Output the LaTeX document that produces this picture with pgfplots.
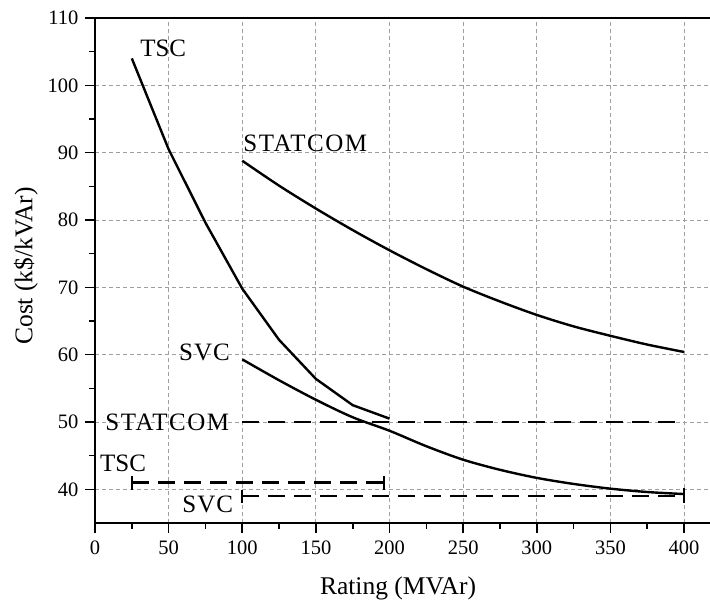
\documentclass[border=0pt]{standalone}
\usepackage{fontspec}
\setmainfont{Liberation Serif}
\usepackage{pgfplots}
\pgfplotsset{compat=1.18}

\begin{document}
\begin{tikzpicture}[lbl/.style={font=\fontsize{25}{30}\selectfont, inner sep=0pt}]
\begin{axis}[
  at={(0,0)}, anchor=south west,
  scale only axis, width=618.5pt, height=505pt,
  xmin=0, xmax=420, ymin=35, ymax=110,
  xtick={0,50,...,400}, ytick={40,50,...,110},
  minor x tick num=1, minor y tick num=1,
  tick pos=left, tick align=outside,
  major tick length=10pt, minor tick length=6pt,
  grid=major,
  major grid style={gray!75, line width=0.8pt, dash pattern=on 4pt off 3pt},
  axis line style={line width=1.8pt},
  every tick/.style={black, line width=1.6pt},
  ticklabel style={font=\fontsize{20.5}{24}\selectfont},
  yticklabel style={xshift=-3pt},
  xticklabel style={yshift=-4pt},
  /pgf/number format/assume math mode=true,
  xlabel={Rating (MVAr)}, ylabel={Cost (k\$/kVAr)},
  label style={font=\fontsize{25.5}{30}\selectfont},
  xlabel style={at={(axis description cs:0.49,0)}, anchor=base, yshift=-72pt},
  ylabel style={at={(axis description cs:-0.1116,0.509)}, anchor=center},
  clip=false,
]
% cost curves
\addplot[black, line width=2.4pt] coordinates {
  (25,104) (50,90.5) (75,79.6) (100,69.8) (125,62.2) (150,56.4) (175,52.5) (200,50.5)};
\addplot[black, line width=2.4pt, smooth] coordinates {
  (100,88.8) (125,85.1) (150,81.7) (175,78.5) (200,75.5) (225,72.7) (250,70.1)
  (275,67.9) (300,65.9) (325,64.2) (350,62.8) (375,61.5) (400,60.4)};
\addplot[black, line width=2.4pt, smooth] coordinates {
  (100,59.3) (125,56.2) (150,53.3) (175,50.7) (200,48.7) (225,46.4) (250,44.4)
  (275,42.9) (300,41.7) (325,40.8) (350,40.1) (375,39.6) (400,39.3)};

% rating ranges
\addplot[black, line width=2.7pt, dash pattern=on 17pt off 9pt] coordinates {(100,50) (400,50)};
\addplot[black, line width=2.7pt, dash pattern=on 17pt off 9pt] coordinates {(25,41) (196,41)};
\addplot[black, line width=2.7pt, dash pattern=on 17pt off 9pt] coordinates {(100,39) (400,39)};
\addplot[black, line width=2pt] coordinates {(25,42) (25,39.9)};
\addplot[black, line width=2pt] coordinates {(196,42) (196,39.9)};
\addplot[black, line width=2pt] coordinates {(100,39.9) (100,38)};
\addplot[black, line width=2.4pt] coordinates {(400,40.2) (400,37.9)};

\node[lbl, anchor=west] at (axis cs:30.6,105.5) {TSC};
\node[lbl, anchor=west] at (axis cs:100.7,91.4) {\addfontfeature{LetterSpace=6}STATCOM};
\node[lbl, anchor=east] at (axis cs:91.7,60.4) {\addfontfeature{LetterSpace=4}SVC};
\node[lbl, anchor=east] at (axis cs:91.2,49.9) {\addfontfeature{LetterSpace=6}STATCOM};
\node[lbl, anchor=west] at (axis cs:3.4,43.9) {TSC};
\node[lbl, anchor=east] at (axis cs:93.9,37.8) {\addfontfeature{LetterSpace=4}SVC};
\end{axis}
\pgfresetboundingbox
\path[use as bounding box] (-95pt,-81pt) rectangle (615pt,523pt);
\end{tikzpicture}
\end{document}
